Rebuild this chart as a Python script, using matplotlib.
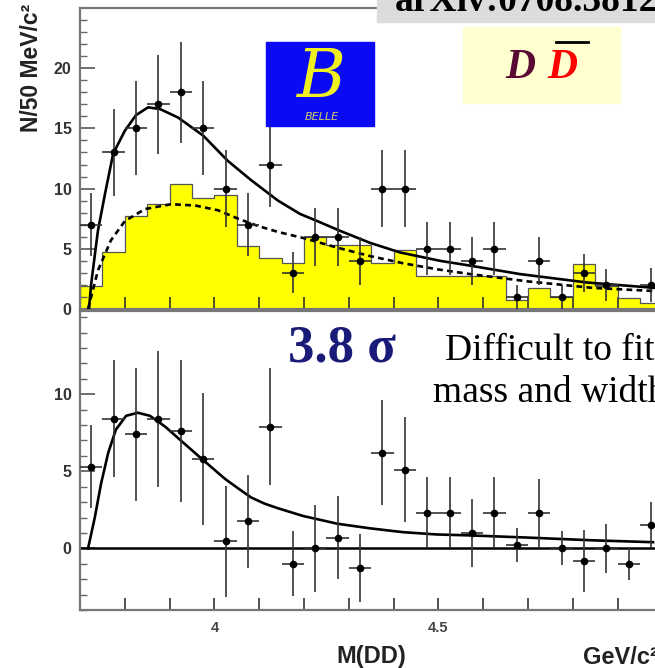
import numpy as np
import matplotlib.pyplot as plt
from matplotlib.lines import Line2D
from matplotlib.patches import Rectangle

# 50 MeV/c^2 bins starting at 3.70 GeV/c^2
bin_lo = 3.70
bin_w = 0.05

# events per bin, upper panel (0 = empty bin, not drawn)
n_obs = [7, 13, 15, 17, 18, 15, 10, 7, 12, 3, 6, 6, 4, 10, 10, 5, 5, 4, 5, 1, 4, 1, 3, 2, 0, 2]
n_obs_err = [2.6, 3.6, 3.9, 4.1, 4.2, 3.9, 3.2, 2.6, 3.5, 1.7, 2.4, 2.4, 2.0, 3.2, 3.2, 2.2,
             2.2, 2.0, 2.2, 1.0, 2.0, 1.0, 1.6, 1.3, 0.0, 1.4]

# sideband histogram (yellow)
n_side = [1.9, 4.7, 7.7, 8.75, 10.35, 9.25, 9.45, 5.25, 4.25, 3.8, 6.0, 5.3, 5.3, 3.8, 4.9,
          2.7, 2.7, 2.7, 2.7, 0.75, 1.75, 1.0, 3.75, 1.9, 0.9, 0.5]

# total fit (solid) and background component (dashed)
fit_m = [3.720, 3.725, 3.740, 3.756, 3.774, 3.800, 3.825, 3.852, 3.879, 3.919, 3.975, 4.030,
         4.082, 4.142, 4.191, 4.236, 4.280, 4.347, 4.414, 4.504, 4.571, 4.682, 4.832, 4.984]
fit_y = [0.0, 2.1, 6.5, 9.6, 12.9, 14.8, 16.1, 16.75, 16.6, 15.9, 14.4, 12.3,
         10.7, 9.0, 7.9, 7.2, 6.5, 5.5, 4.7, 4.0, 3.6, 2.9, 2.2, 1.75]
bkg_m = [3.718, 3.740, 3.769, 3.800, 3.845, 3.903, 3.957, 4.008, 4.053, 4.097, 4.142, 4.198,
         4.274, 4.347, 4.421, 4.497, 4.571, 4.698, 4.845, 4.979]
bkg_y = [0.0, 3.2, 5.7, 7.3, 8.3, 8.7, 8.6, 8.2, 7.5, 6.9, 6.4, 5.9,
         5.1, 4.4, 3.8, 3.3, 2.9, 2.3, 1.75, 1.5]

# background subtracted yield, lower panel
n_sub = [5.3, 8.4, 7.4, 8.4, 7.6, 5.8, 0.45, 1.75, 7.9, -1.0, 0.0, 0.7, -1.3, 6.2, 5.1, 2.3,
         2.3, 1.0, 2.3, 0.2, 2.3, 0.0, -0.8, 0.0, -1.0, 1.5]
n_sub_err = [2.7, 3.8, 4.3, 4.4, 4.6, 4.3, 3.6, 3.0, 3.8, 2.1, 2.8, 2.7, 2.2, 3.4, 3.4, 2.3,
             2.3, 2.2, 2.3, 1.1, 2.2, 1.1, 2.0, 1.6, 1.05, 1.5]
sig_m = [3.718, 3.733, 3.747, 3.763, 3.780, 3.803, 3.829, 3.856, 3.890, 3.925, 3.970, 4.024,
         4.055, 4.082, 4.112, 4.142, 4.198, 4.274, 4.347, 4.421, 4.497, 4.571, 4.698, 4.845,
         4.979]
sig_y = [0.0, 2.0, 4.2, 6.2, 7.7, 8.6, 8.8, 8.6, 7.9, 7.0, 5.85, 4.5,
         3.85, 3.3, 2.9, 2.6, 2.1, 1.6, 1.3, 1.05, 0.9, 0.84, 0.7, 0.52,
         0.4]

edges = bin_lo + bin_w * np.arange(len(n_obs) + 1)
centres = edges[:-1] + bin_w / 2

W, H = 655, 668
fig = plt.figure(figsize=(W / 100, H / 100), dpi=100)


def box(l, t, r, b):
    return [l / W, 1 - b / H, (r - l) / W, (b - t) / H]


def fx(x):
    return x / W


def fy(y):
    return 1 - y / H


tick_font = dict(family='Liberation Sans', weight='bold')
spine_col = '#777777'

ax1 = fig.add_axes(box(80, 8, 80 + 1.3 * 448, 309))
ax2 = fig.add_axes(box(80, 311, 80 + 1.3 * 448, 610))

xt = np.round(np.arange(3.8, 5.0, 0.1), 1)
xl = ['4' if v == 4.0 else '4.5' if v == 4.5 else '' for v in xt]

for ax in (ax1, ax2):
    ax.set_xlim(3.7, 5.0)
    for s in ax.spines.values():
        s.set_color(spine_col)
        s.set_linewidth(1.6)
    ax.spines['right'].set_visible(False)
    ax.set_xticks(xt, labels=xl)
    ax.tick_params(axis='x', direction='in', length=9, width=1.2, color='#333333',
                   pad=8, labelsize=10.5, labelcolor='#444444')
    ax.tick_params(axis='y', which='major', direction='in', length=11, width=1.2,
                   color='#555555', pad=6, labelsize=11.5, labelcolor='#333333')
    ax.tick_params(axis='y', which='minor', direction='in', length=5, width=1.0, color='#666666')
    for lab in ax.get_xticklabels():
        lab.set_fontfamily('Liberation Sans')
        lab.set_fontweight('bold')

# upper panel: data, sideband histogram, fit
ax1.set_ylim(0, 25)
ax1.set_yticks([0, 5, 10, 15, 20])
ax1.set_yticks(np.arange(0, 25, 1), minor=True)
ax1.set_yticklabels(['0', '5', '10', '15', '20'], **tick_font)
ax1.tick_params(axis='x', labelbottom=False)
ax1.stairs(n_side, edges, fill=True, color='#ffff00', zorder=1)
ax1.stairs(n_side, edges, color='#555555', lw=0.9, zorder=2)
ax1.plot(bkg_m, bkg_y, color='black', lw=1.9, ls=(0, (2.2, 1.6)), zorder=3)
ax1.plot(fit_m, fit_y, color='black', lw=1.9, zorder=3)
obs = np.array(n_obs, dtype=float)
keep = obs > 0
ax1.errorbar(centres[keep], obs[keep], yerr=np.array(n_obs_err)[keep], xerr=bin_w / 2,
             fmt='o', ms=4.5, color='black', ecolor='#333333', elinewidth=1.2,
             capsize=0, zorder=4)

# lower panel: background subtracted
ax2.set_ylim(-4, 15.4)
ax2.set_yticks([0, 5, 10])
ax2.set_yticks(np.arange(-4, 15.4, 1), minor=True)
ax2.set_yticklabels(['0', '5', '10'], **tick_font)
ax2.axhline(0, color='black', lw=1.8, zorder=2)
ax2.plot(sig_m, sig_y, color='black', lw=1.9, zorder=3)
ax2.errorbar(centres, n_sub, yerr=n_sub_err, xerr=bin_w / 2,
             fmt='o', ms=4.5, color='black', ecolor='#333333', elinewidth=1.2,
             capsize=0, zorder=4)

# axis titles
fig.text(fx(31), fy(4), 'N/50 MeV/c²', rotation=90, ha='center', va='top',
         fontsize=16.5, **tick_font, color='#222222')
fig.text(fx(371), fy(657), 'M(DD)', ha='center', va='center', fontsize=17,
         **tick_font, color='#222222')
fig.text(fx(583), fy(657), 'GeV/c²', ha='left', va='center', fontsize=17,
         **tick_font, color='#222222')

# reference banner
fig.add_artist(Rectangle((fx(377), fy(22)), fx(655 - 377), 22 / H,
                         transform=fig.transFigure, color='#dcdcdc', zorder=5))
fig.text(fx(395), fy(11), 'arXiv:0708.3812', ha='left', va='baseline', fontsize=27,
         family='Liberation Serif', weight='bold', color='black', zorder=6)

# Belle logo
fig.add_artist(Rectangle((fx(266), fy(126)), fx(374 - 266), 84 / H,
                         transform=fig.transFigure, color='#0a0af5', zorder=5))
fig.text(fx(321), fy(97), 'B', ha='center', va='baseline', fontsize=48,
         family='DejaVu Serif', style='italic', color='#f0f020', zorder=6)
fig.text(fx(322), fy(120), 'BELLE', ha='center', va='baseline', fontsize=8,
         family='DejaVu Sans', style='italic', color='#d0d060', zorder=6)

# channel label
fig.add_artist(Rectangle((fx(463), fy(103)), fx(620 - 463), 76 / H,
                         transform=fig.transFigure, color='#ffffd0', zorder=5))
fig.text(fx(505), fy(78), 'D', ha='left', va='baseline', fontsize=30,
         family='Liberation Serif', weight='bold', style='italic', color='#5a0a32', zorder=6)
fig.text(fx(547), fy(78), 'D', ha='left', va='baseline', fontsize=30,
         family='Liberation Serif', weight='bold', style='italic', color='#ff0000', zorder=6)
fig.add_artist(Line2D([fx(556), fx(588)], [fy(42), fy(42)], transform=fig.transFigure,
                      color='black', lw=2, zorder=6))

# significance note
fig.text(fx(288), fy(362), '3.8 σ', ha='left', va='baseline', fontsize=38,
         family='Liberation Serif', weight='bold', color='#1a1a78', zorder=6)
fig.text(fx(445), fy(360), 'Difficult to fit', ha='left', va='baseline', fontsize=27,
         family='Liberation Serif', color='black', zorder=6)
fig.text(fx(433), fy(402), 'mass and width', ha='left', va='baseline', fontsize=27,
         family='Liberation Serif', color='black', zorder=6)

fig.savefig('out.png', dpi=100)
